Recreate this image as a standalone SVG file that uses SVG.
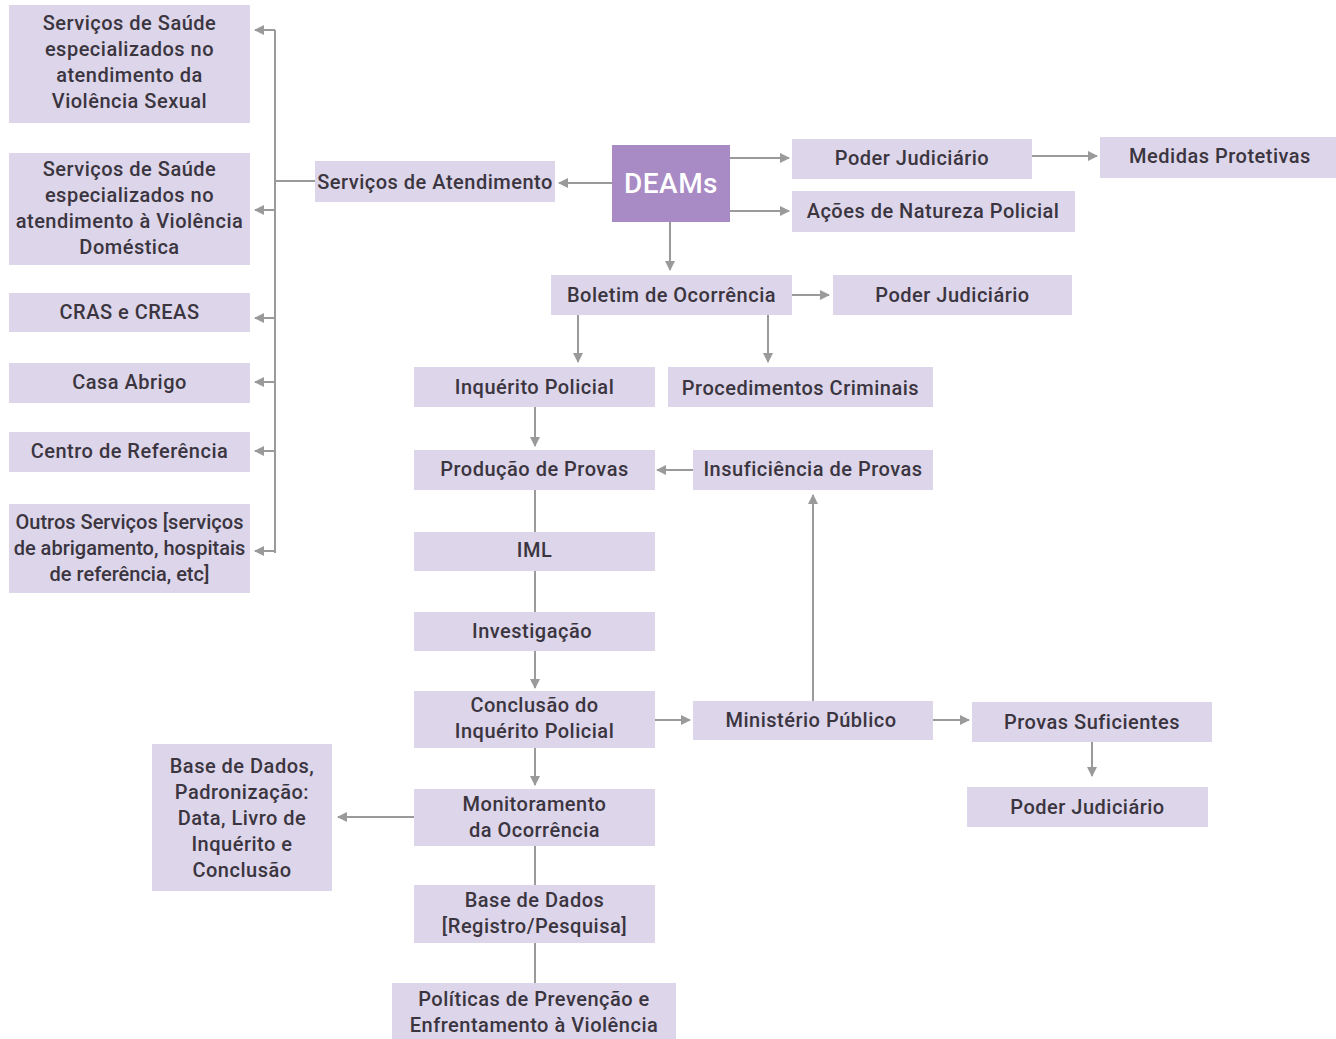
<svg xmlns="http://www.w3.org/2000/svg" width="1336" height="1039" viewBox="0 0 1336 1039">
<defs>
<style>
.b{fill:#ddd5ea}
.d{fill:#a88ac4}
.t{font-family:Roboto,"Liberation Sans",sans-serif;font-size:20px;letter-spacing:0.5px;font-weight:500;fill:#3b3540;text-anchor:middle}
.n{letter-spacing:0px}
.w{font-family:Roboto,"Liberation Sans",sans-serif;font-size:28px;letter-spacing:0.5px;font-weight:500;fill:#ffffff;text-anchor:middle}
.c{stroke:#9a9a9a;stroke-width:2;fill:none}
.a{marker-end:url(#ah)}
</style>
<marker id="ah" viewBox="0 0 10 10" refX="9" refY="5" markerWidth="5" markerHeight="5" orient="auto" markerUnits="strokeWidth">
<path d="M0,0 L10,5 L0,10 z" fill="#9a9a9a"/>
</marker>
</defs>
<rect width="1336" height="1039" fill="#ffffff"/>

<g id="connectors">
<path class="c" d="M275,30 V553"/>
<path class="c a" d="M275,30 H255"/>
<path class="c a" d="M275,210 H255"/>
<path class="c a" d="M275,318 H255"/>
<path class="c a" d="M275,382 H255"/>
<path class="c a" d="M275,451 H255"/>
<path class="c a" d="M275,551 H255"/>
<path class="c" d="M275,181 H315"/>
<path class="c a" d="M612,183 H559"/>
<path class="c a" d="M730,158 H789"/>
<path class="c a" d="M1032,156 H1097"/>
<path class="c a" d="M730,211 H789"/>
<path class="c a" d="M670,222 V270"/>
<path class="c a" d="M792,295 H829"/>
<path class="c a" d="M578,315 V362"/>
<path class="c a" d="M768,315 V362"/>
<path class="c a" d="M535,407 V446"/>
<path class="c a" d="M693,470 H657"/>
<path class="c" d="M535,490 V532"/>
<path class="c" d="M535,571 V612"/>
<path class="c a" d="M535,651 V688"/>
<path class="c a" d="M655,720 H690"/>
<path class="c a" d="M813,701 V495"/>
<path class="c a" d="M933,720 H969"/>
<path class="c a" d="M1092,742 V776"/>
<path class="c a" d="M535,748 V785"/>
<path class="c a" d="M414,817 H338"/>
<path class="c" d="M535,846 V885"/>
<path class="c" d="M535,943 V983"/>
</g>

<g id="n_saude_sexual"><rect class="b" x="9" y="5" width="241" height="118"/>
<text class="t" x="129.5" y="30">Serviços de Saúde</text>
<text class="t" x="129.5" y="56">especializados no</text>
<text class="t" x="129.5" y="82">atendimento da</text>
<text class="t" x="129.5" y="108">Violência Sexual</text></g>

<g id="n_saude_domestica"><rect class="b" x="9" y="153" width="241" height="112"/>
<text class="t" x="129.5" y="176">Serviços de Saúde</text>
<text class="t" x="129.5" y="202">especializados no</text>
<text class="t" x="129.5" y="228">atendimento à Violência</text>
<text class="t" x="129.5" y="254">Doméstica</text></g>

<g id="n_cras"><rect class="b" x="9" y="293" width="241" height="39"/>
<text class="t" x="129.5" y="319">CRAS e CREAS</text></g>

<g id="n_casa"><rect class="b" x="9" y="363" width="241" height="40"/>
<text class="t" x="129.5" y="389">Casa Abrigo</text></g>

<g id="n_centro"><rect class="b" x="9" y="432" width="241" height="40"/>
<text class="t" x="129.5" y="458">Centro de Referência</text></g>

<g id="n_outros"><rect class="b" x="9" y="504" width="241" height="89"/>
<text class="t n" x="129.5" y="529">Outros Serviços [serviços</text>
<text class="t n" x="129.5" y="555">de abrigamento, hospitais</text>
<text class="t n" x="129.5" y="581">de referência, etc]</text></g>

<g id="n_atendimento"><rect class="b" x="315" y="161" width="240" height="41"/>
<text class="t" x="435" y="189">Serviços de Atendimento</text></g>

<g id="n_deams"><rect class="d" x="612" y="145" width="118" height="77"/>
<text class="w" x="671" y="193">DEAMs</text></g>

<g id="n_pj1"><rect class="b" x="792" y="139" width="240" height="40"/>
<text class="t" x="912" y="165">Poder Judiciário</text></g>

<g id="n_medidas"><rect class="b" x="1100" y="137" width="236" height="41"/>
<text class="t" x="1220" y="163">Medidas Protetivas</text></g>

<g id="n_acoes"><rect class="b" x="792" y="191" width="283" height="41"/>
<text class="t" x="933" y="218">Ações de Natureza Policial</text></g>

<g id="n_boletim"><rect class="b" x="551" y="275" width="241" height="40"/>
<text class="t" x="671.5" y="302">Boletim de Ocorrência</text></g>

<g id="n_pj2"><rect class="b" x="833" y="275" width="239" height="40"/>
<text class="t" x="952.5" y="302">Poder Judiciário</text></g>

<g id="n_inquerito"><rect class="b" x="414" y="367" width="241" height="40"/>
<text class="t" x="534.5" y="394">Inquérito Policial</text></g>

<g id="n_procedimentos"><rect class="b" x="668" y="367" width="265" height="40"/>
<text class="t" x="800.5" y="395">Procedimentos Criminais</text></g>

<g id="n_producao"><rect class="b" x="414" y="450" width="241" height="40"/>
<text class="t" x="534.5" y="476">Produção de Provas</text></g>

<g id="n_insuf"><rect class="b" x="693" y="450" width="240" height="40"/>
<text class="t" x="813" y="476">Insuficiência de Provas</text></g>

<g id="n_iml"><rect class="b" x="414" y="532" width="241" height="39"/>
<text class="t" x="534.5" y="557">IML</text></g>

<g id="n_investigacao"><rect class="b" x="414" y="612" width="241" height="39"/>
<text class="t" x="532" y="638">Investigação</text></g>

<g id="n_conclusao"><rect class="b" x="414" y="691" width="241" height="57"/>
<text class="t" x="534.5" y="712">Conclusão do</text>
<text class="t" x="534.5" y="738">Inquérito Policial</text></g>

<g id="n_mp"><rect class="b" x="693" y="701" width="240" height="39"/>
<text class="t" x="811" y="727">Ministério Público</text></g>

<g id="n_provas_suf"><rect class="b" x="972" y="702" width="240" height="40"/>
<text class="t" x="1092" y="729">Provas Suficientes</text></g>

<g id="n_pj3"><rect class="b" x="967" y="787" width="241" height="40"/>
<text class="t" x="1087.5" y="814">Poder Judiciário</text></g>

<g id="n_monitoramento"><rect class="b" x="414" y="789" width="241" height="57"/>
<text class="t" x="534.5" y="811">Monitoramento</text>
<text class="t" x="534.5" y="837">da Ocorrência</text></g>

<g id="n_base_padronizacao"><rect class="b" x="152" y="744" width="180" height="147"/>
<text class="t" x="242" y="773">Base de Dados,</text>
<text class="t" x="242" y="799">Padronização:</text>
<text class="t" x="242" y="825">Data, Livro de</text>
<text class="t" x="242" y="851">Inquérito e</text>
<text class="t" x="242" y="877">Conclusão</text></g>

<g id="n_base_registro"><rect class="b" x="414" y="885" width="241" height="58"/>
<text class="t" x="534.5" y="907">Base de Dados</text>
<text class="t" x="534.5" y="933">[Registro/Pesquisa]</text></g>

<g id="n_politicas"><rect class="b" x="392" y="983" width="284" height="56"/>
<text class="t" x="534" y="1006">Políticas de Prevenção e</text>
<text class="t" x="534" y="1032">Enfrentamento à Violência</text></g>
</svg>
